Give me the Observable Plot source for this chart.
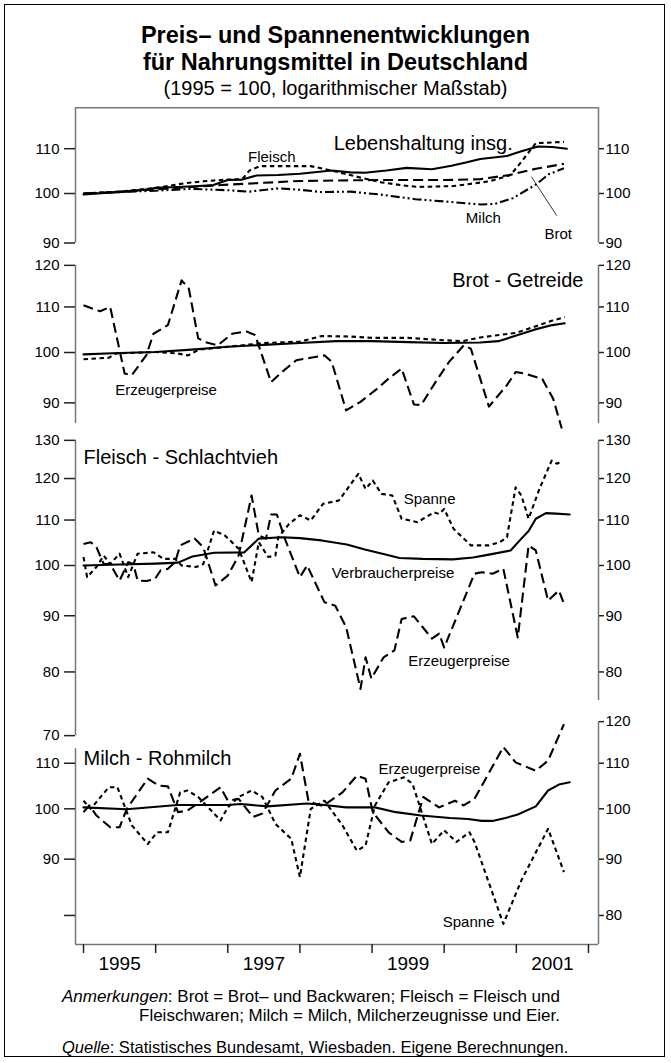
<!DOCTYPE html>
<html><head><meta charset="utf-8">
<script src="https://cdn.jsdelivr.net/npm/d3@7"></script>
<script src="https://cdn.jsdelivr.net/npm/@observablehq/plot@0.6"></script>
<style>
body{margin:0;background:#fff;}
#page{position:relative;width:671px;height:1063px;overflow:hidden;font-family:'Liberation Sans',Arial,Helvetica,sans-serif;color:#000;}
#frame{position:absolute;left:4px;top:4px;width:659px;height:1051px;border:1.5px solid #000;}
.t{position:absolute;left:0;width:671px;text-align:center;white-space:nowrap;}
.n{position:absolute;white-space:nowrap;font-size:17px;line-height:17px;}
</style></head><body>
<div id="page">
<div id="frame"></div>
<div class="t" style="top:23.5px;font-size:23.5px;line-height:23.5px;font-weight:bold">Preis– und Spannenentwicklungen</div>
<div class="t" style="top:50.5px;font-size:23.5px;line-height:23.5px;font-weight:bold">für Nahrungsmittel in Deutschland</div>
<div class="t" style="top:77.5px;font-size:20px;line-height:20px">(1995 = 100, logarithmischer Maßstab)</div>
<div class="n" style="top:987.5px;left:62px"><i>Anmerkungen</i>: Brot = Brot– und Backwaren; Fleisch = Fleisch und</div>
<div class="n" style="top:1006.5px;left:139px">Fleischwaren; Milch = Milch, Milcherzeugnisse und Eier.</div>
<div class="n" style="top:1039px;left:62px;font-size:16.5px;line-height:16.5px"><i>Quelle</i>: Statistisches Bundesamt, Wiesbaden. Eigene Berechnungen.</div>
</div>
<script>
// ---------- data (year as decimal, index 1995 = 100) ----------
// Panel 1: Lebenshaltung insg. and food groups (consumer prices)
const lebenshaltung = [[1995.0,99.8],[1995.3,100.1],[1995.6,100.4],[1995.9,100.9],[1996.0,101.2],[1996.3,101.4],[1996.6,101.6],[1996.8,101.8],[1997.0,102.9],[1997.2,103.0],[1997.4,103.9],[1997.7,104.0],[1998.0,104.3],[1998.44,105.0],[1998.7,104.6],[1998.9,104.5],[1999.2,105.0],[1999.48,105.6],[1999.83,105.3],[2000.1,106.1],[2000.3,106.8],[2000.5,107.6],[2000.87,108.3],[2001.07,109.4],[2001.3,110.5],[2001.5,110.4],[2001.7,110.0]];
const fleischVPI = [[1995.0,100.0],[1995.5,100.4],[1996.0,101.2],[1996.4,102.2],[1996.7,102.7],[1997.0,103.0],[1997.2,103.1],[1997.3,105.0],[1997.45,106.0],[1997.8,106.0],[1998.15,106.0],[1998.44,105.0],[1998.8,103.6],[1999.13,102.4],[1999.4,101.8],[1999.63,101.4],[2000.13,101.6],[2000.62,102.6],[2000.92,104.0],[2001.07,107.0],[2001.27,111.3],[2001.66,111.6]];
const brotVPI = [[1995.0,100.0],[1995.5,100.4],[1996.0,100.9],[1996.5,101.4],[1997.0,101.9],[1997.5,102.3],[1998.0,102.7],[1998.5,102.8],[1999.0,102.9],[1999.5,102.9],[2000.0,102.9],[2000.5,103.1],[2000.9,104.0],[2001.27,105.4],[2001.66,106.5]];
const milchVPI = [[1995.0,100.0],[1995.5,100.3],[1996.0,100.6],[1996.5,101.0],[1997.0,100.7],[1997.3,100.4],[1997.7,101.1],[1998.0,100.8],[1998.3,100.3],[1998.7,100.4],[1999.1,99.8],[1999.6,98.8],[2000.1,98.2],[2000.5,97.7],[2000.7,97.8],[2000.95,99.0],[2001.27,101.9],[2001.45,104.2],[2001.66,105.5]];
// Panel 2: Brot - Getreide
const brotVerbraucher = [[1995.0,99.6],[1995.5,99.9],[1996.0,100.1],[1996.5,100.6],[1997.0,101.2],[1997.5,101.6],[1998.0,102.0],[1998.5,102.4],[1999.0,102.4],[1999.5,102.2],[2000.0,102.0],[2000.5,102.1],[2000.75,102.4],[2001.0,103.6],[2001.25,104.9],[2001.5,105.9],[2001.67,106.3]];
const brotSpanne = [[1995.0,98.6],[1995.35,98.9],[1995.45,99.8],[1996.0,100.1],[1996.3,99.8],[1996.45,99.4],[1996.6,100.6],[1997.0,101.2],[1997.5,102.0],[1998.0,102.3],[1998.3,103.5],[1998.7,103.4],[1999.0,103.1],[1999.5,103.1],[2000.0,102.6],[2000.25,102.4],[2000.5,103.2],[2001.0,104.2],[2001.5,106.9],[2001.67,107.7]];
const getreideErzeuger = [[1995.0,110.4],[1995.23,109.0],[1995.37,110.0],[1995.57,95.7],[1995.67,95.4],[1995.87,99.4],[1995.97,104.0],[1996.17,105.9],[1996.36,116.3],[1996.46,114.3],[1996.59,103.0],[1996.69,102.2],[1996.86,101.5],[1997.06,104.0],[1997.26,104.5],[1997.38,103.7],[1997.6,94.0],[1997.75,96.0],[1997.95,98.4],[1998.15,98.9],[1998.34,99.4],[1998.44,98.1],[1998.64,88.6],[1998.84,90.2],[1999.08,92.8],[1999.23,94.7],[1999.41,96.7],[1999.58,89.7],[1999.68,89.6],[1999.88,94.0],[2000.07,98.1],[2000.27,101.5],[2000.37,100.8],[2000.62,89.3],[2000.87,93.4],[2000.99,96.0],[2001.12,95.7],[2001.36,94.6],[2001.51,90.8],[2001.63,85.3]];
// Panel 3: Fleisch - Schlachtvieh
const fleischVerbraucher = [[1995.0,100.0],[1995.5,100.2],[1996.0,100.4],[1996.31,100.6],[1996.51,101.9],[1996.81,102.7],[1997.23,102.8],[1997.43,105.8],[1997.75,106.1],[1998.0,105.9],[1998.3,105.4],[1998.65,104.5],[1998.9,103.4],[1999.2,102.3],[1999.38,101.6],[1999.7,101.4],[2000.12,101.3],[2000.4,101.7],[2000.62,102.3],[2000.92,103.2],[2001.07,105.8],[2001.17,107.5],[2001.27,110.3],[2001.41,111.6],[2001.55,111.5],[2001.74,111.3]];
const fleischSpanne = [[1995.0,101.8],[1995.05,97.6],[1995.18,99.7],[1995.28,102.1],[1995.37,100.3],[1995.5,102.5],[1995.62,97.6],[1995.75,102.5],[1995.97,102.8],[1996.11,101.4],[1996.27,101.4],[1996.36,100.0],[1996.56,99.7],[1996.66,100.3],[1996.81,107.6],[1996.96,106.5],[1997.15,103.6],[1997.33,96.6],[1997.43,105.0],[1997.56,101.8],[1997.66,102.1],[1997.7,106.1],[1997.85,109.1],[1998.0,111.1],[1998.15,109.9],[1998.32,113.8],[1998.54,114.6],[1998.64,117.0],[1998.81,121.2],[1998.91,117.4],[1999.01,119.5],[1999.13,116.2],[1999.28,115.8],[1999.41,110.3],[1999.63,109.5],[1999.86,111.8],[1999.93,111.4],[2000.0,112.6],[2000.13,108.0],[2000.37,104.3],[2000.62,104.3],[2000.77,105.0],[2000.87,106.1],[2000.99,117.8],[2001.07,115.8],[2001.17,110.3],[2001.32,117.4],[2001.49,124.6],[2001.56,123.8],[2001.61,124.2]];
const schlachtviehErzeuger = [[1995.0,104.6],[1995.1,105.0],[1995.18,103.9],[1995.28,100.3],[1995.37,100.3],[1995.5,96.9],[1995.62,100.7],[1995.69,100.3],[1995.75,96.9],[1995.87,96.8],[1995.99,97.2],[1996.07,99.0],[1996.17,99.3],[1996.27,100.7],[1996.34,104.3],[1996.54,105.8],[1996.66,103.9],[1996.83,95.9],[1997.0,97.9],[1997.15,102.1],[1997.33,115.8],[1997.43,106.5],[1997.53,105.8],[1997.6,111.3],[1997.68,111.3],[1997.8,105.4],[1998.0,97.6],[1998.1,100.0],[1998.34,92.6],[1998.49,91.9],[1998.64,87.9],[1998.84,77.2],[1998.91,82.5],[1998.99,78.9],[1999.16,82.5],[1999.31,83.7],[1999.41,89.4],[1999.58,89.9],[1999.83,85.8],[1999.93,86.7],[2000.0,84.2],[2000.42,98.3],[2000.52,98.6],[2000.67,98.3],[2000.82,99.3],[2001.02,86.0],[2001.17,104.3],[2001.27,103.2],[2001.44,92.9],[2001.59,94.9],[2001.66,92.3]];
// Panel 4: Milch - Rohmilch
const milchVerbraucher = [[1995.0,100.3],[1995.6,99.9],[1996.3,100.8],[1997.0,100.8],[1997.18,101.0],[1997.55,100.5],[1998.1,101.1],[1998.34,100.8],[1998.64,100.3],[1999.04,100.3],[1999.33,99.3],[1999.68,98.6],[2000.08,98.1],[2000.33,97.9],[2000.52,97.5],[2000.67,97.5],[2000.85,98.1],[2001.02,98.8],[2001.27,100.5],[2001.44,103.9],[2001.59,105.2],[2001.74,105.7]];
const milchSpanne = [[1995.0,101.7],[1995.1,100.0],[1995.35,104.6],[1995.47,104.6],[1995.67,96.6],[1995.89,92.9],[1996.02,95.2],[1996.17,95.2],[1996.34,103.5],[1996.44,103.9],[1996.59,102.5],[1996.9,97.6],[1997.0,100.3],[1997.15,102.5],[1997.33,103.9],[1997.48,102.5],[1997.66,96.9],[1997.88,93.9],[1998.0,86.7],[1998.15,100.0],[1998.34,101.7],[1998.59,96.6],[1998.79,91.6],[1998.91,92.6],[1999.04,100.7],[1999.23,105.7],[1999.44,106.8],[1999.56,105.4],[1999.83,92.9],[2000.0,95.6],[2000.17,93.3],[2000.35,95.2],[2000.42,93.3],[2000.82,78.6],[2001.07,86.1],[2001.44,95.9],[2001.66,87.6]];
const rohmilchErzeuger = [[1995.0,99.3],[1995.08,100.7],[1995.18,98.6],[1995.37,96.2],[1995.5,96.2],[1995.6,100.0],[1995.89,106.5],[1996.04,105.0],[1996.17,104.8],[1996.31,99.3],[1996.44,99.6],[1996.61,101.4],[1996.9,104.6],[1997.0,101.7],[1997.15,102.1],[1997.35,98.3],[1997.48,99.0],[1997.66,103.9],[1997.88,106.5],[1998.0,112.2],[1998.12,101.5],[1998.32,100.6],[1998.59,103.5],[1998.79,107.2],[1998.91,106.5],[1999.01,99.3],[1999.23,95.2],[1999.41,93.3],[1999.53,93.6],[1999.71,102.5],[1999.93,100.3],[2000.15,101.7],[2000.27,100.7],[2000.42,102.1],[2000.82,113.8],[2000.99,110.2],[2001.27,108.3],[2001.44,110.6],[2001.66,119.4]];

// ticks
const yearTicks = [1995,1996,1997,1998,1999,2000,2001,2002];
const yearLabels = [1995,1997,1999,2001];
const ticksP1 = [90,100,110];
const ticksP2 = [90,100,110,120];
const ticksP3Left = [70,80,90,100,110,120,130];
const ticksP3Right = [80,90,100,110,120,130];
const ticksP4Left = [80,90,100,110];
const ticksP4Right = [80,90,100,110,120];

// labels: [text, year, value]
const labelsP1 = [["Lebenshaltung insg.",2000.95,111.3],["Fleisch",1997.28,108.0],["Milch",2000.3,94.9],["Brot",2001.39,91.8]];
const leaderP1 = [[2001.21,103.6,2001.56,95.4]];
const labelsP2 = [["Brot - Getreide",2001.93,116.3],["Erzeugerpreise",1995.44,92.4]];
const labelsP3 = [["Fleisch - Schlachtvieh",1995.0,125.5],["Spanne",1999.44,115.0],["Verbraucherpreise",1998.44,98.3],["Erzeugerpreise",1999.5,81.8]];
const labelsP4 = [["Milch - Rohmilch",1995.0,111.0],["Erzeugerpreise",1999.09,108.7],["Spanne",1999.98,78.8]];

// ---------- drawing ----------
const FONT = "'Liberation Sans', Arial, Helvetica, sans-serif";
const AXC = "#777", TKC = "#222";
const X0 = 1994.889, X1 = 2002.139;
const SOLID = null, LONG = "10,5", SHORT = "4.5,3.5", DDOT = "9,3,2,3,2,3";

function ln(data, dash) {
  return Plot.line(data, {x: d => d[0], y: d => d[1], stroke: "black", strokeWidth: 2.1,
    strokeDasharray: dash, strokeLinecap: dash ? "butt" : "round", strokeLinejoin: "round"});
}
function lbl(l, anchor, size) {
  return Plot.text([l], {x: d => d[1], y: d => d[2], text: d => d[0], textAnchor: anchor, fontSize: size, fill: "black"});
}
function vline(x, lo, hi) {
  return Plot.ruleX([x], {y1: lo, y2: hi, stroke: AXC, strokeWidth: 1.5});
}
function axL(ticks, fmt) {
  return Plot.axisY(ticks, {anchor: "left", tickSize: 11, tickPadding: 5, fontSize: 15, stroke: TKC, strokeWidth: 1.5, fill: "black", text: fmt || (d => String(d))});
}
function axR(ticks) {
  return Plot.axisY(ticks, {anchor: "right", tickSize: 5, tickPadding: 2, fontSize: 15, stroke: TKC, strokeWidth: 1.5, fill: "black", text: d => String(d)});
}
function panel(cfg, marks) {
  const yr = v => cfg.y100 - cfg.k * Math.log(v / 100);
  const svg = Plot.plot({
    width: 671, height: 1063,
    marginLeft: 75, marginRight: 73, marginTop: 0, marginBottom: cfg.mb || 0,
    style: {fontFamily: FONT, fontSize: "15px", background: "transparent", overflow: "visible"},
    x: cfg.xAxis ? {domain: [X0, X1]} : {domain: [X0, X1], axis: null},
    y: {type: "log", domain: cfg.domain, range: cfg.domain.map(yr)},
    marks
  });
  svg.style.position = "absolute"; svg.style.left = "0px"; svg.style.top = "0px";
  document.getElementById("page").appendChild(svg);
}

// Panel 1
panel({y100: 193, k: 470, domain: [90, 120]}, [
  vline(X0, 90, 120), vline(X1, 90, 120),
  Plot.ruleY([120], {stroke: AXC, strokeWidth: 1.5}),
  axL(ticksP1), axR(ticksP1),
  ln(milchVPI, DDOT), ln(brotVPI, LONG), ln(fleischVPI, SHORT), ln(lebenshaltung, SOLID),
  Plot.link(leaderP1, {x1: d => d[0], y1: d => d[1], x2: d => d[2], y2: d => d[3], stroke: "black", strokeWidth: 0.8}),
  lbl(labelsP1[0], "end", 20), lbl(labelsP1[1], "start", 15), lbl(labelsP1[2], "start", 15), lbl(labelsP1[3], "start", 15)
]);
// Panel 2
panel({y100: 352, k: 478, domain: [86.2, 120]}, [
  vline(X0, 86.2, 120), vline(X1, 86.2, 120),
  axL(ticksP2), axR(ticksP2),
  ln(getreideErzeuger, LONG), ln(brotSpanne, SHORT), ln(brotVerbraucher, SOLID),
  lbl(labelsP2[0], "end", 20), lbl(labelsP2[1], "start", 15)
]);
// Panel 3
panel({y100: 565, k: 477, domain: [70, 130]}, [
  vline(X0, 70, 130), vline(X1, 75.35, 130),
  axL(ticksP3Left), axR(ticksP3Right),
  ln(schlachtviehErzeuger, LONG), ln(fleischSpanne, SHORT), ln(fleischVerbraucher, SOLID),
  lbl(labelsP3[0], "start", 20), lbl(labelsP3[1], "start", 15), lbl(labelsP3[2], "start", 15), lbl(labelsP3[3], "start", 15)
]);
// Panel 4
panel({y100: 808.3, k: 478, domain: [75.28, 120], mb: 119, xAxis: true}, [
  vline(X0, 75.28, 113.4), vline(X1, 75.28, 120),
  Plot.ruleY([75.28], {stroke: AXC, strokeWidth: 1.5}),
  axL(ticksP4Left, d => d === 80 ? "" : String(d)), axR(ticksP4Right),
  Plot.axisX(yearTicks, {anchor: "bottom", tickSize: 9, stroke: TKC, strokeWidth: 1.5, tickFormat: () => ""}),
  Plot.axisX(yearLabels.map(y => y + 0.5), {anchor: "bottom", tickSize: 0, tickPadding: 12, fontSize: 19, fill: "black", text: d => String(Math.floor(d))}),
  ln(rohmilchErzeuger, LONG), ln(milchSpanne, SHORT), ln(milchVerbraucher, SOLID),
  lbl(labelsP4[0], "start", 20), lbl(labelsP4[1], "start", 15), lbl(labelsP4[2], "start", 15)
]);
</script>
</body></html>
